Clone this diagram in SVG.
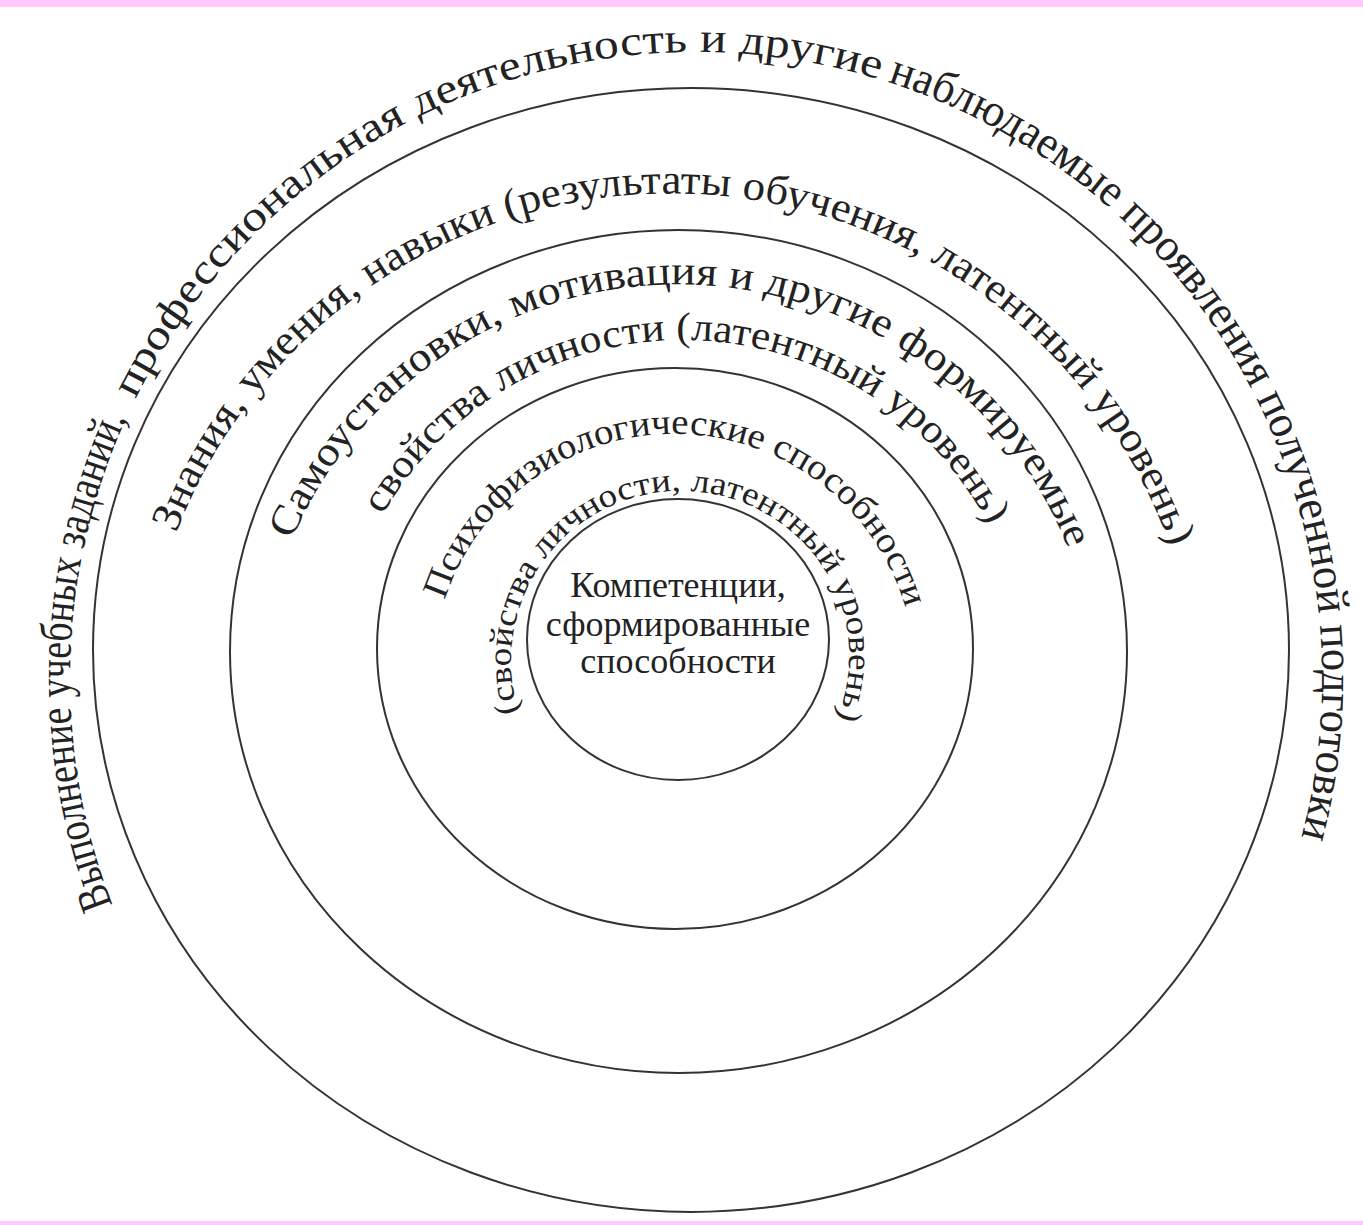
<svg xmlns="http://www.w3.org/2000/svg" xmlns:xlink="http://www.w3.org/1999/xlink" width="1363" height="1225" viewBox="0 0 1363 1225">
<style>
.ring{fill:none;stroke:#333;stroke-width:2}
.t{font-family:"Liberation Serif","Times New Roman",serif;fill:#222}
.band{fill:#ffc8ff}
</style>
<defs>
<path id="p0" d="M112.6,905 A626,626 0 0 1 1279.4,451 A626,626 0 0 1 112.6,905"/>
<path id="p1" d="M176.1,533 A530,530 0 0 1 1167.9,907 A530,530 0 0 1 176.1,533"/>
<path id="p2a" d="M291.7,540 A420,420 0 0 1 1068.3,860 A420,420 0 0 1 291.7,540"/>
<path id="p2b" d="M382.7,515 A345,345 0 0 1 983.3,855 A345,345 0 0 1 382.7,515"/>
<path id="p3a" d="M444.7,600.1 A241,241 0 0 1 905.3,741.9 A241,241 0 0 1 444.7,600.1"/>
<path id="p3b" d="M518.8,711.9 A170,170 0 0 1 841.2,604.1 A170,170 0 0 1 518.8,711.9"/>
</defs>
<rect class="band" x="0" y="0" width="1363" height="7"/>
<rect class="band" x="0" y="1221" width="1363" height="4"/>
<g id="level-observable">
<ellipse class="ring" cx="691" cy="650" rx="598" ry="562"/>
<text class="t" font-size="46"><textPath xlink:href="#p0" href="#p0" startOffset="0" textLength="500" lengthAdjust="spacingAndGlyphs">Выполнение учебных заданий,</textPath></text>
<text class="t" font-size="42"><textPath xlink:href="#p0" href="#p0" startOffset="521" textLength="880" lengthAdjust="spacingAndGlyphs">профессиональная деятельность и другие</textPath></text>
<text class="t" font-size="46"><textPath xlink:href="#p0" href="#p0" startOffset="1410" textLength="950" lengthAdjust="spacingAndGlyphs">наблюдаемые проявления полученной подготовки</textPath></text>
</g>
<g id="level-knowledge">
<ellipse class="ring" cx="678.5" cy="651.5" rx="448.5" ry="421.5"/>
<text class="t" font-size="42"><textPath xlink:href="#p1" href="#p1" textLength="1290" lengthAdjust="spacingAndGlyphs">Знания, умения, навыки (результаты обучения, латентный уровень)</textPath></text>
</g>
<g id="level-attitudes">
<ellipse class="ring" cx="675" cy="648.5" rx="298" ry="280.5"/>
<text class="t" font-size="41"><textPath xlink:href="#p2a" href="#p2a" textLength="991" lengthAdjust="spacingAndGlyphs">Самоустановки, мотивация и другие формируемые</textPath></text>
<text class="t" font-size="40"><textPath xlink:href="#p2b" href="#p2b" textLength="740" lengthAdjust="spacingAndGlyphs">свойства личности (латентный уровень)</textPath></text>
</g>
<g id="level-psychophysiological">
<ellipse class="ring" cx="678" cy="639.5" rx="151" ry="140.5"/>
<text class="t" font-size="36"><textPath xlink:href="#p3a" href="#p3a" textLength="613" lengthAdjust="spacingAndGlyphs">Психофизиологические способности</textPath></text>
<text class="t" font-size="33"><textPath xlink:href="#p3b" href="#p3b" textLength="644" lengthAdjust="spacingAndGlyphs">(свойства личности, латентный уровень)</textPath></text>
</g>
<g id="core-competencies">
<text class="t" font-size="36" text-anchor="middle"><tspan x="678" y="597">Компетенции,</tspan><tspan x="678" y="636">сформированные</tspan><tspan x="678" y="673">способности</tspan></text>
</g>
</svg>
